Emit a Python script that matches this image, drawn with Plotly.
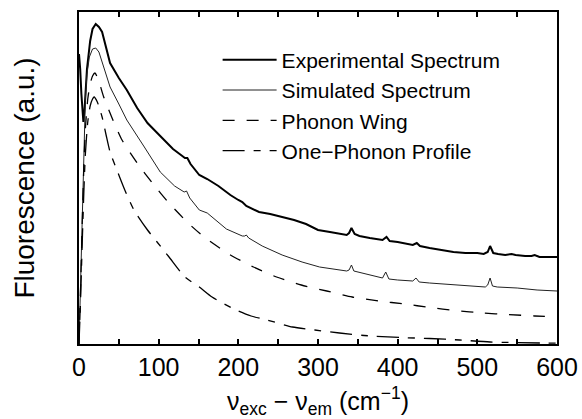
import plotly.graph_objects as go

# ---- data (arbitrary fluorescence units) ----
exp_x = [0, 1.5, 3, 4.5, 5.5, 7, 10, 14, 17, 21, 25, 29, 33, 39, 50, 60, 73, 86, 97, 107, 118,
         128, 133, 136, 140, 151, 161, 175, 190, 200, 205, 210, 226, 240, 255, 270, 285, 300,
         315, 327, 336, 339, 342, 346, 352, 365, 375, 381, 386, 390, 400, 412, 419, 424, 428,
         440, 455, 470, 485, 500, 508, 513, 516, 520, 526, 535, 543, 548, 560, 568, 572, 578,
         590, 600]
exp_y = [290, 275, 250, 226, 222, 235, 275, 303, 315, 320, 317, 312, 300, 281, 266, 254, 236, 221,
         212, 204, 195, 189, 186, 186, 180, 169, 165, 158, 149, 144, 142, 138, 132, 130, 127, 124,
         120, 114, 112, 110, 109, 111, 116, 110, 108, 106, 105, 104, 107, 103, 102, 100, 99, 101,
         98, 96, 94, 92, 91, 91, 90, 92, 98, 91, 90, 89, 90, 89, 88, 88, 89, 87, 87, 87]

sim_x = [0, 2, 4, 6, 8, 10, 13, 17, 21, 25, 30, 39, 50, 60, 82, 102, 120, 128, 132, 135, 139,
         151, 161, 185, 205, 208, 210, 213, 230, 255, 280, 302, 327, 336, 339, 342, 345, 350,
         365, 375, 381, 385, 389, 400, 412, 419, 423, 427, 440, 460, 480, 500, 510, 513, 516,
         519, 525, 550, 575, 600]
sim_y = [0, 60, 140, 200, 245, 270, 287, 295, 296, 292, 280, 257, 240, 224, 197, 172, 158, 154,
         152, 153, 146, 134, 131, 115, 108, 108, 109, 106, 98, 89, 82, 77, 74, 73, 74, 79, 73, 72,
         69, 67, 66, 72, 65, 64, 63, 63, 66, 62, 61, 60, 59, 58, 57, 59, 66, 58, 57, 56, 54, 53]

pw_x = [0, 2, 4, 6, 8, 11, 14, 17, 20, 24, 31, 41, 54, 73, 93, 114, 137, 157, 190, 219, 248,
        279, 311, 343, 376, 409, 440, 473, 507, 538, 572, 600]
pw_y = [0, 55, 120, 175, 215, 245, 260, 268, 271, 265, 247, 227, 204, 181, 160, 140, 121, 107,
        89, 77, 67, 59, 53, 47, 43, 40, 36.5, 33.5, 31, 29.5, 28, 27]

op_x = [0, 2, 4, 6, 8, 11, 14, 17, 19, 23, 29, 34, 39, 50, 58, 69, 86, 98, 113, 133, 151, 167,
        197, 216, 236, 268, 296, 327, 358, 403, 440, 478, 516, 579, 600]
op_y = [0, 45, 100, 150, 190, 222, 238, 245, 247, 242, 227, 209, 192, 169, 153, 134, 114, 102,
        87, 67, 57, 47, 34, 28, 24, 17, 14, 11, 8.5, 6.5, 5.5, 4, 2, 1, 0.8]

x_ticks = [0, 50, 100, 150, 200, 250, 300, 350, 400, 450, 500, 550, 600]
x_tick_text = ["0", "", "100", "", "200", "", "300", "", "400", "", "500", "", "600"]

FONT = "Liberation Sans, Arial, Helvetica, sans-serif"

fig = go.Figure()
fig.add_trace(go.Scatter(x=exp_x, y=exp_y, mode="lines", name="Experimental Spectrum",
                         line=dict(color="black", width=2)))
fig.add_trace(go.Scatter(x=sim_x, y=sim_y, mode="lines", name="Simulated Spectrum",
                         line=dict(color="#222", width=1)))
fig.add_trace(go.Scatter(x=pw_x, y=pw_y, mode="lines", name="Phonon Wing",
                         line=dict(color="black", width=1.3, dash="12px,12px",
                                   shape="spline", smoothing=0.6)))
fig.add_trace(go.Scatter(x=op_x, y=op_y, mode="lines", name="One\u2212Phonon Profile",
                         line=dict(color="black", width=1.3, dash="22px,9px,7px,9px",
                                   shape="spline", smoothing=0.6)))

fig.update_layout(
    width=582, height=419,
    margin=dict(l=79, r=25, t=12, b=75),
    paper_bgcolor="white", plot_bgcolor="white",
    font=dict(family=FONT, color="black"),
    showlegend=True,
    legend=dict(x=0.29, y=0.917, xanchor="left", yanchor="top",
                bgcolor="rgba(0,0,0,0)", font=dict(size=21, family=FONT),
                traceorder="normal", itemwidth=54),
    xaxis=dict(range=[0, 600], tickmode="array", tickvals=x_ticks, ticktext=x_tick_text,
               ticks="inside", ticklen=5, tickwidth=1.5, tickcolor="black",
               showline=True, linecolor="black", linewidth=2, mirror="ticks",
               showgrid=False, zeroline=False, automargin=False,
               tickfont=dict(size=25, family=FONT),
               title=dict(text="\u03bd<sub>exc</sub> \u2212 \u03bd<sub>em</sub> (cm<sup>\u22121</sup>)",
                          font=dict(size=25, family=FONT), standoff=12)),
    yaxis=dict(range=[0, 332], showticklabels=False, ticks="",
               showline=True, linecolor="black", linewidth=2, mirror=True,
               showgrid=False, zeroline=False, automargin=False,
               title=dict(text="Fluorescence (a.u.)", font=dict(size=28, family=FONT),
                          standoff=34)),
)

fig.write_html("out.html")
